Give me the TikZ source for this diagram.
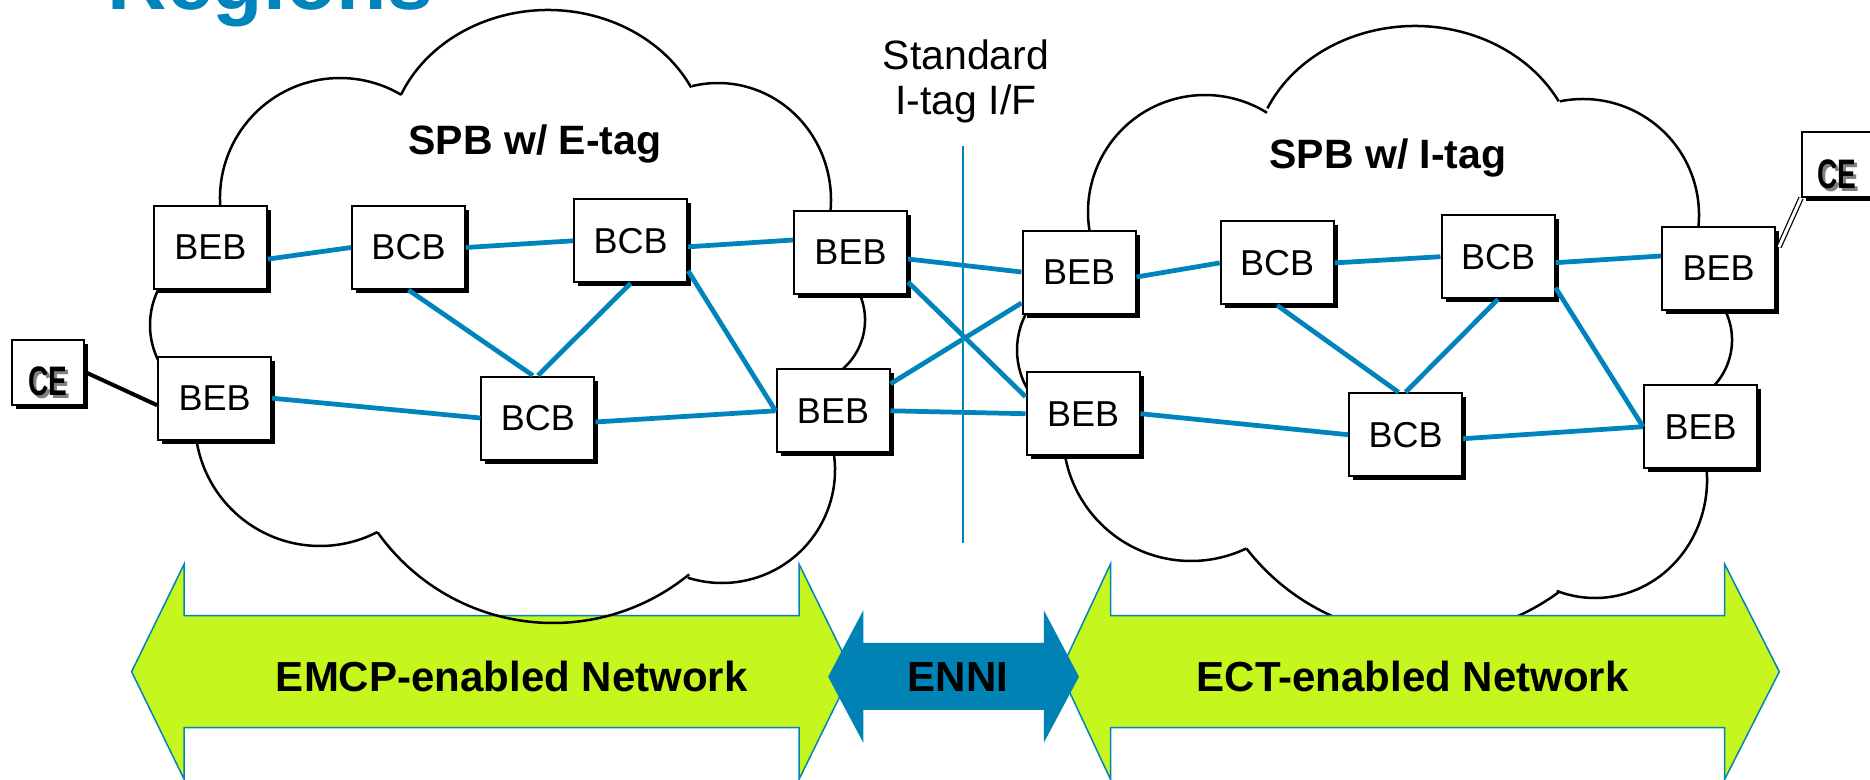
\documentclass[tikz,border=0pt]{standalone}
\usepackage{fontspec}
\setmainfont{Liberation Sans}
\usetikzlibrary{calc,shadows}
\definecolor{lnblue}{RGB}{0,132,188}
\definecolor{limegreen}{RGB}{197,246,30}
\definecolor{enniblue}{RGB}{0,130,180}
\newcommand\fsz[1]{\fontsize{#1}{#1}\selectfont}
\newcommand\cloudlobe[6]{\draw[cloudline] ([shift={(#5:#3 and #4)}]#1,-#2) arc[start angle=#5,end angle=#6,x radius=#3,y radius=#4];}
\begin{document}
\begin{tikzpicture}[x=0.4pt,y=0.4pt,
  cloudline/.style={line width=1pt,black},
  boxshadow/.style={drop shadow={shadow xshift=1.6pt,shadow yshift=-1.6pt,fill=black,opacity=1}},
  netbox/.style={draw,line width=0.8pt,fill=white,minimum width=45.2pt,minimum height=33.2pt,inner sep=0pt,font=\fsz{14.4},boxshadow},
  cebox/.style={draw,line width=0.8pt,fill=white,minimum width=28.8pt,minimum height=26pt,inner sep=0pt,boxshadow},
  cetext/.style={anchor=base,inner sep=0pt,font=\fsz{16.5}\bfseries},
  link/.style={lnblue,line width=1.9pt},
  greenarrow/.style={fill=limegreen,draw=lnblue,line width=0.6pt},
  ennistyle/.style={fill=enniblue,draw=enniblue,line width=0.4pt},
  boldlbl/.style={anchor=base,inner sep=0pt,font=\fsz{16.8}\bfseries},
  cloudlbl/.style={anchor=base,inner sep=0pt,font=\fsz{16.4}\bfseries},
  stdlbl/.style={anchor=base,inner sep=0pt,font=\fsz{16.4}}
]
\useasboundingbox (0,0) rectangle (1870,-779);
\fill[white] (0,0) rectangle (1870,-779);

% title (cut off at top, as in the reference)
\node[anchor=base west,inner sep=0pt,text=lnblue,font=\fsz{33}\bfseries] (title) at (107,-10) {Regions};

% right cloud (behind the arrows)
\cloudlobe{1205}{212}{117}{117}{195}{58}
\cloudlobe{1415}{166}{162}{140}{155.7}{27.5}
\cloudlobe{1583}{215}{116}{116}{101.5}{-15}
\cloudlobe{1665}{340}{67}{67}{35}{-55}
\cloudlobe{1595}{480}{112}{118}{10}{-110}
\cloudlobe{1425}{410}{226}{226}{-53.7}{-142.2}
\cloudlobe{1191}{433}{128}{128}{-64.4}{-172}
\cloudlobe{1095}{350}{78}{78}{145}{215}

% bottom arrows
\draw[greenarrow] (131.6,-671.7) -- (184.2,-564) -- (184.2,-615.7) -- (799,-615.7) -- (799,-564) -- (852,-671.7) -- (799,-779.4) -- (799,-727.7) -- (184.2,-727.7) -- (184.2,-779.4) -- cycle;
\draw[greenarrow] (1060,-671.7) -- (1110.5,-564) -- (1110.5,-615.7) -- (1724.6,-615.7) -- (1724.6,-564) -- (1779.3,-671.7) -- (1724.6,-779.4) -- (1724.6,-727.7) -- (1110.5,-727.7) -- (1110.5,-779.4) -- cycle;
\draw[ennistyle] (828.7,-676.7) -- (862.8,-612.3) -- (862.8,-643.3) -- (1044.3,-643.3) -- (1044.3,-612.3) -- (1078.4,-676.7) -- (1044.3,-740.7) -- (1044.3,-709.3) -- (862.8,-709.3) -- (862.8,-740.7) -- cycle;
\node[boldlbl] (emcp) at (511.7,-691.7) {EMCP-enabled Network};
\node[boldlbl] (enni) at (958,-691.7) {ENNI};
\node[boldlbl] (ect) at (1412.7,-691.7) {ECT-enabled Network};

% left cloud
\cloudlobe{340}{198}{120}{120}{190}{59.4}
\cloudlobe{548}{150}{160}{140}{156.8}{26.5}
\cloudlobe{718}{200}{113}{117}{103.3}{-10}
\cloudlobe{800}{320}{65}{65}{30}{-60}
\cloudlobe{722}{470}{113}{113}{10}{-107.6}
\cloudlobe{553}{408}{215}{215}{-50.7}{-144.6}
\cloudlobe{320}{421}{125}{125}{-62.6}{-175}
\cloudlobe{230}{325}{80}{80}{215}{145}

% interface line and label
\coordinate (ifTop) at (963.3,-146);
\coordinate (ifBot) at (963.3,-543);
\draw[lnblue,line width=0.8pt] (ifTop) -- (ifBot);
\node[stdlbl] (stdA) at (966,-70) {Standard};
\node[stdlbl] (stdB) at (966,-115) {I-tag I/F};

% cloud labels
\node[cloudlbl] (lblE) at (535,-154) {SPB w/ E-tag};
\node[cloudlbl] (lblI) at (1388,-169) {SPB w/ I-tag};

% bridges
\node[netbox] (beb1) at (210.4,-247.1) {BEB};
\node[netbox] (bcb1) at (408.5,-247.5) {BCB};
\node[netbox] (bcb2) at (630.6,-240.8) {BCB};
\node[netbox] (beb2) at (850.5,-252) {BEB};
\node[netbox] (beb3) at (214.6,-398.2) {BEB};
\node[netbox] (bcb3) at (537.9,-418) {BCB};
\node[netbox] (beb4) at (833,-410.8) {BEB};
\node[netbox] (beb5) at (1079,-272) {BEB};
\node[netbox] (bcb4) at (1277.2,-262.9) {BCB};
\node[netbox] (bcb5) at (1498,-256.7) {BCB};
\node[netbox] (beb6) at (1718.5,-268) {BEB};
\node[netbox] (beb7) at (1083,-413.7) {BEB};
\node[netbox] (bcb6) at (1405.5,-434.7) {BCB};
\node[netbox] (beb8) at (1700.5,-426.7) {BEB};

% CE boxes
\node[cebox] (ceL) at (48,-372) {};
\node[cetext,text=black!50] (ceLs) at (50.5,-398) {\scalebox{0.68}[1]{CE}};
\node[cetext] (ceLt) at (47.5,-395.5) {\scalebox{0.68}[1]{CE}};
\node[cebox] (ceR) at (1838,-164.5) {};
\node[cetext,text=black!50] (ceRs) at (1840,-191) {\scalebox{0.68}[1]{CE}};
\node[cetext] (ceRt) at (1837,-188.5) {\scalebox{0.68}[1]{CE}};

% links, left region
\draw[link] ($(beb1.east)+(0,-12)$) -- (bcb1.west);
\draw[link] (bcb1.east) -- (bcb2.west);
\draw[link] ($(bcb2.east)+(0,-6)$) -- ($(beb2.west)+(0,12)$);
\draw[link] (bcb1.south) -- ($(bcb3.north)+(-5,0)$);
\draw[link] (bcb2.south) -- (bcb3.north);
\draw[link] ($(bcb2.east)+(0,-30)$) -- (beb4.west);
\draw[link] (beb3.east) -- (bcb3.west);
\draw[link] ($(bcb3.east)+(0,-4)$) -- (beb4.west);
% links across the interface
\draw[link] ($(beb2.east)+(0,-7)$) -- (beb5.west);
\draw[link] ($(beb2.east)+(0,-30)$) -- ($(beb7.west)+(0,17)$);
\draw[link] ($(beb4.east)+(0,27)$) -- ($(beb5.west)+(0,-31)$);
\draw[link] (beb4.east) -- (beb7.west);
% links, right region
\draw[link] ($(beb5.east)+(0,-5)$) -- (bcb4.west);
\draw[link] (bcb4.east) -- (bcb5.west);
\draw[link] ($(bcb5.east)+(0,-6)$) -- ($(beb6.west)+(0,12)$);
\draw[link] (bcb4.south) -- ($(bcb6.north)+(-7,0)$);
\draw[link] (bcb5.south) -- (bcb6.north);
\draw[link] ($(bcb5.east)+(0,-31)$) -- (beb8.west);
\draw[link] (beb7.east) -- (bcb6.west);
\draw[link] ($(bcb6.east)+(0,-4)$) -- (beb8.west);

% customer edge attachments
\draw[line width=1.6pt] (ceL.east) -- ($(beb3.west)+(0,-7)$);
\draw[double,line width=0.5pt,double distance=1.2pt] ($(beb6.east)+(3,21)$) -- (ceR.south west);
\end{tikzpicture}
\end{document}
